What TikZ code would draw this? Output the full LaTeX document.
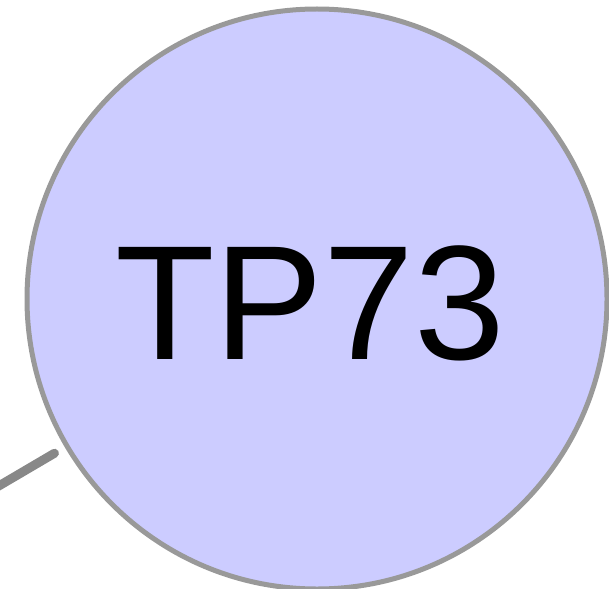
\documentclass[tikz,border=0pt]{standalone}
\usepackage{fontspec}
\setmainfont{Liberation Sans}
\definecolor{nodefill}{HTML}{CCCCFF}
\definecolor{nodeborder}{HTML}{999999}
\definecolor{edgecol}{HTML}{888888}
\tikzset{
  tpnode/.style={circle, draw=nodeborder, fill=nodefill, line width=5pt, minimum size=580pt, inner sep=0pt},
  tplabel/.style={inner sep=0pt, font=\fontsize{163}{163}\selectfont, text=black},
  tpedge/.style={draw=edgecol, line width=9pt, line cap=round}
}
\begin{document}
\begin{tikzpicture}[x=1pt,y=-1pt]
\useasboundingbox (0,0) rectangle (609,588);
\node[tpnode] (n) at (317,299) {};
\node[tplabel] (t) at (310,303.5) {TP73};
\coordinate (e) at (-20,497);
\draw[tpedge, shorten >=12pt] (e) -- (n);
\end{tikzpicture}
\end{document}
